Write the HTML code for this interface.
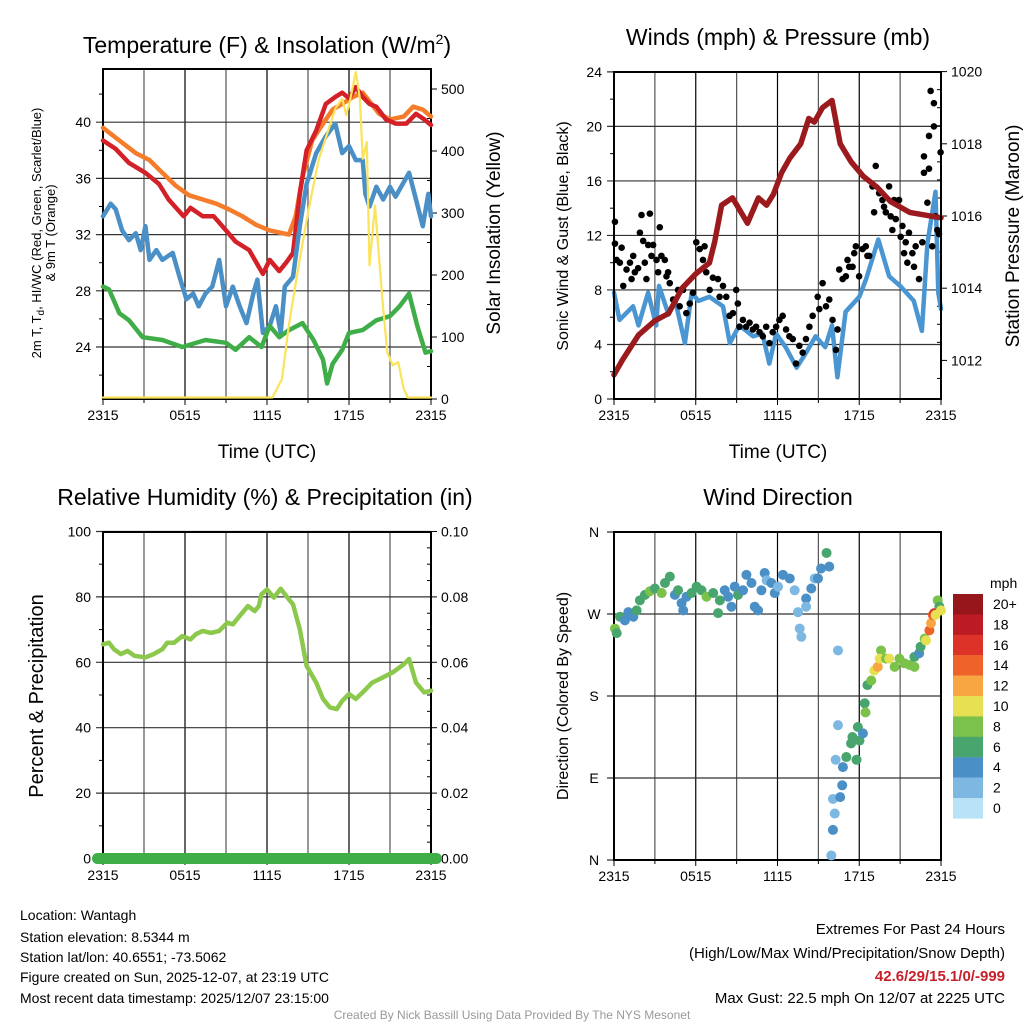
<!DOCTYPE html>
<html><head><meta charset="utf-8"><style>
html,body{margin:0;padding:0;background:#fff;}
svg{display:block;font-family:"Liberation Sans",Arial,sans-serif;}
</style></head><body>
<svg id="s" width="1024" height="1024" viewBox="0 0 1024 1024" xmlns="http://www.w3.org/2000/svg">
<rect width="1024" height="1024" fill="#fff"/>
<text x="267" y="53" font-size="23" text-anchor="middle">Temperature (F) &amp; Insolation (W/m<tspan dy="-9" font-size="14">2</tspan><tspan dy="9">)</tspan></text>
<text x="778" y="45" font-size="23" text-anchor="middle">Winds (mph) &amp; Pressure (mb)</text>
<text x="265" y="505" font-size="23" text-anchor="middle">Relative Humidity (%) &amp; Precipitation (in)</text>
<text x="778" y="505" font-size="23" text-anchor="middle">Wind Direction</text>
<text x="267" y="458" font-size="19" text-anchor="middle">Time (UTC)</text>
<text x="778" y="458" font-size="19" text-anchor="middle">Time (UTC)</text>
<text transform="translate(41,233) rotate(-90)" font-size="13" text-anchor="middle">2m T, T<tspan dy="3" font-size="10">d</tspan><tspan dy="-3">, HI/WC (Red, Green, Scarlet/Blue)</tspan></text>
<text transform="translate(55,233) rotate(-90)" font-size="13" text-anchor="middle">&amp; 9m T (Orange)</text>
<text transform="translate(500,233) rotate(-90)" font-size="19" text-anchor="middle">Solar Insolation (Yellow)</text>
<text transform="translate(568,236) rotate(-90)" font-size="16" text-anchor="middle">Sonic Wind &amp; Gust (Blue, Black)</text>
<text transform="translate(1019,236) rotate(-90)" font-size="19" text-anchor="middle">Station Pressure (Maroon)</text>
<text transform="translate(43,696) rotate(-90)" font-size="20" text-anchor="middle">Percent &amp; Precipitation</text>
<text transform="translate(568,696) rotate(-90)" font-size="16" text-anchor="middle">Direction (Colored By Speed)</text>
<g font-size="14">
<text x="20" y="920">Location: Wantagh</text>
<text x="20" y="942">Station elevation: 8.5344 m</text>
<text x="20" y="962">Station lat/lon: 40.6551; -73.5062</text>
<text x="20" y="982">Figure created on Sun, 2025-12-07, at 23:19 UTC</text>
<text x="20" y="1003">Most recent data timestamp: 2025/12/07 23:15:00</text>
</g>
<g font-size="15" text-anchor="end">
<text x="1005" y="934">Extremes For Past 24 Hours</text>
<text x="1005" y="958">(High/Low/Max Wind/Precipitation/Snow Depth)</text>
<text x="1005" y="981" fill="#c8202a" font-weight="bold">42.6/29/15.1/0/-999</text>
<text x="1005" y="1003">Max Gust: 22.5 mph On 12/07 at 2225 UTC</text>
</g>
<text x="512" y="1019" font-size="12" fill="#999" text-anchor="middle">Created By Nick Bassill Using Data Provided By The NYS Mesonet</text>
</svg>
<script>
// ---- Temperature panel data ----
const redH=[0,0.93,1.9,3.1,4.1,4.8,5.9,6.4,7.3,8.1,9.0,9.7,10.7,11.4,11.7,12.2,12.9,13.4,13.9,14.4,14.9,15.6,16.3,17.0,17.5,18.0,18.5,19.0,19.5,20.0,20.7,21.4,22.2,22.9,23.5,24];
const redT=[38.7,38.1,37.1,36.4,35.6,34.5,33.3,33.9,33.3,33.3,32.3,31.5,30.9,29.7,29.2,30.2,29.4,30.0,30.7,34.9,38.0,39.4,41.3,41.8,42.1,41.7,42.5,41.8,41.3,41.1,40.2,39.9,39.9,40.6,40.2,39.8];
const orangeH=[0,1.2,2.4,3.4,4.35,5.3,6.3,7.3,8.3,9.2,10.2,11.2,12.2,13.6,14.1,14.6,15.3,16.1,16.8,17.5,18.3,19,20.2,21,22,22.7,23.4,24];
const orangeT=[39.6,38.7,37.8,37.3,36.4,35.5,34.8,34.5,34.2,33.8,33.3,32.7,32.3,32.0,33.3,36.1,38.7,39.9,40.9,41.3,41.8,42.1,40.6,40.2,40.4,41.1,40.9,40.4];
const blueH=[0,0.56,0.93,1.4,1.9,2.4,2.76,3.1,3.4,3.9,4.35,5.1,5.6,6.1,6.6,7.0,7.5,8.0,8.5,9.0,9.5,10.0,10.5,11.0,11.3,11.7,12.2,12.65,13.0,13.3,13.9,14.4,14.9,15.6,16.3,17.0,17.5,18.0,18.5,19,19.2,19.5,20,20.5,21,21.4,22.4,22.9,23.4,23.8,24];
const blueT=[33.3,34.2,33.8,32.3,31.6,32.1,30.9,32.6,30.2,30.9,30.2,30.7,29.0,27.4,27.8,26.9,27.8,28.3,30.2,26.9,28.3,26.9,25.7,27.8,28.8,25.0,25.5,26.9,25.0,28.3,29.0,32.6,35.6,37.8,39.0,39.9,37.8,38.3,37.3,37.3,34.9,34.0,35.4,34.5,35.4,34.7,36.4,34.5,32.6,34.9,33.3];
const greenH=[0,0.44,1.2,1.9,2.9,4.35,5.8,7.5,9.0,9.7,10.7,11.6,12.2,12.9,13.6,14.6,15.4,16.1,16.4,16.8,17.5,18.0,19.0,20.0,21,21.7,22.4,23.0,23.6,24];
const greenT=[28.3,28.1,26.4,25.9,24.7,24.5,24.0,24.5,24.3,23.8,24.7,24.0,25.5,24.7,25.2,25.7,24.5,23.1,21.4,22.8,23.8,25.0,25.2,25.9,26.2,26.9,27.8,25.5,23.6,23.7];
const solarH=[0,12.4,13.1,13.6,14.4,15.1,15.8,16.6,17.0,17.5,17.8,18.1,18.5,18.8,19.0,19.3,19.5,19.9,20.2,20.5,20.8,21.2,21.6,22,22.3,24];
const solarW=[0,0,30,117,224,310,385,439,466,482,455,482,525,482,385,412,213,310,224,143,73,52,57,14,0,0];
const tempTicks=[24,28,32,36,40];
const solarTicks=[0,100,200,300,400,500];
const timeTicks=[0,6,12,18,24];
const timeLabels=["2315","0515","1115","1715","2315"];
// ---- Wind panel data ----
const presH=[0,0.6,1.8,3,4,5,6,7,7.4,7.9,8.7,9.8,10.6,11.2,11.7,12.3,12.9,13.7,14.3,14.7,15.3,16,16.6,17.4,18.3,19.3,20.3,21.7,24];
const presMb=[1011.6,1012,1012.7,1013.1,1013.3,1014,1014.4,1014.7,1015.3,1016.3,1016.5,1015.8,1016.5,1016.3,1016.6,1017.2,1017.6,1018,1018.7,1018.6,1019,1019.2,1018,1017.5,1017.1,1016.8,1016.4,1016.1,1015.95];
const windH=[0,0.4,1.4,1.8,2.5,3.1,3.3,4,4.5,5.2,5.7,6.2,7,8,8.5,9.2,10.2,10.9,11.4,11.9,12.6,13.4,14.1,14.8,15.5,16,16.4,17,18,18.5,19.4,20.2,21,22,22.6,23,23.6,23.8,24];
const windS=[7.8,5.8,6.8,5.4,7.8,5.4,8.3,6.2,7.2,4.1,7.8,7.2,7.5,6.8,4.1,5.4,4.6,4.8,2.6,4.8,3.8,2.3,3.4,4.6,3.8,5.4,1.6,6.4,7.5,8.8,11.7,9,8.3,7.2,5,11.4,15.2,7.8,6.6];
const gustH=[0.07,0.07,0.19,0.56,0.43,0.68,0.92,1.17,1.29,1.41,1.53,1.77,1.90,2.02,2.14,2.26,2.38,2.51,2.63,2.75,2.87,3.12,3.24,3.36,3.48,3.73,3.85,3.97,4.09,4.34,4.70,4.82,5.07,5.31,5.56,5.80,6.04,6.29,6.53,6.65,6.77,7.02,7.26,7.63,7.75,8.00,8.24,8.48,8.73,8.97,9.09,9.21,9.46,9.70,9.95,10.19,10.43,10.68,10.92,11.17,11.41,11.65,11.90,12.14,12.38,12.63,12.87,13.12,13.36,13.60,13.85,14.09,14.34,14.58,14.95,15.07,15.31,15.56,15.80,16.04,16.29,16.41,16.53,16.78,17.02,17.14,17.26,17.51,17.63,17.75,17.99,18.24,18.48,18.60,18.73,18.97,19.09,19.21,19.46,19.70,19.82,19.95,20.19,20.31,20.43,20.56,20.68,20.92,21.04,21.17,21.29,21.41,21.53,21.65,21.90,22.02,22.14,22.39,22.63,22.75,22.75,23.0,23.12,23.12,23.36,23.48,23.6,23.73,23.85,23.97,23.24,23.48];
const gustS=[13.0,11.4,10.2,11.1,10.0,8.3,9.5,10.0,8.8,10.5,9.3,9.6,12.2,13.5,11.6,10.0,8.8,11.3,13.6,10.5,11.3,10.2,9.3,12.6,10.5,10.2,9.0,9.3,8.5,7.3,8.0,6.8,8.0,6.3,7.0,7.8,11.5,11.0,10.2,11.2,9.3,8.0,8.9,8.8,7.5,8.3,7.5,6.1,6.3,8.0,7.0,5.3,5.8,5.3,5.6,5.1,5.3,4.9,4.6,5.3,4.1,4.9,5.3,5.8,6.1,5.1,4.6,4.4,2.6,3.9,3.4,4.4,5.3,6.1,7.5,6.6,8.5,6.8,7.3,5.8,3.6,5.1,9.5,8.8,9.0,10.2,9.7,9.7,10.7,11.2,9.0,11.0,11.2,10.5,10.5,15.6,13.7,17.1,15.1,14.6,14.1,13.7,15.6,13.4,12.4,14.6,13.2,14.6,11.9,12.7,10.7,11.5,10.0,12.2,10.7,9.7,11.2,8.8,11.5,17.8,16.6,14.4,16.9,19.3,11.2,20.0,13.4,12.4,12.1,18.1,22.6,21.7];
const speedTicks=[0,4,8,12,16,20,24];
const presTicks=[1012,1014,1016,1018,1020];
// ---- RH panel data ----
const rhH=[0,0.44,0.8,1.3,1.8,2.3,3.1,3.7,4.35,4.7,5.2,5.8,6.4,6.8,7.3,7.9,8.5,9.1,9.5,10,10.6,11.1,11.4,11.6,12.0,12.5,13.0,13.5,13.9,14.4,14.9,15.6,16.1,16.6,17.1,17.5,18.0,18.5,19.0,19.7,20.5,21.2,22.0,22.4,22.9,23.5,24];
const rhV=[65.5,66,64,62.5,63.5,62,61.5,62.5,64,66,66,68,67,68.6,69.6,69,69.6,72.1,71.6,74.2,77.2,75.7,77.2,80.8,82.3,79.8,82.5,79.8,77.7,70.1,58.9,53.8,48.8,46.2,45.7,48.2,50.3,48.8,50.8,53.8,55.4,56.9,59.4,61,53.8,50.8,51.3];
const precipH=[-0.4,24.4];
const precipV=[0,0];
const rhTicks=[0,20,40,60,80,100];
const precipTicks=["0.00","0.02","0.04","0.06","0.08","0.10"];
// ---- Wind direction data ----
const dirH=[0.07,0.2,0.44,0.8,1.05,1.42,1.66,1.9,2.27,2.64,3.0,3.5,3.74,4.1,4.47,4.7,4.96,5.08,5.32,5.69,6.06,6.42,6.79,7.28,7.64,7.77,8.13,8.38,8.62,8.86,9.1,9.47,9.72,10.09,10.33,10.57,10.82,11.06,11.2,11.55,11.8,12.04,12.4,12.9,13.26,13.5,13.63,13.75,14.1,14.1,14.48,14.73,14.97,15.2,15.6,15.8,16.44,15.95,16.07,16.2,16.07,16.6,16.75,16.8,16.27,17.05,16.44,17.4,17.5,17.8,18.02,17.9,18.27,18.4,18.46,18.6,18.88,19.1,19.36,19.6,19.5,19.97,20.2,20.6,20.95,21.3,21.7,22.05,22.05,22.4,22.5,22.8,22.9,23.15,23.27,23.4,23.5,23.6,23.76,23.88,24.0];
const dirDeg=[254,249,267,263,272,267,274,285,291,295,298,293,304,311,291,296,282,274,289,293,300,296,289,293,271,285,296,289,278,300,291,296,313,304,278,274,296,315,307,304,293,300,313,309,296,272,254,245,287,278,298,309,309,320,337,322,230,5,33,51,67,69,82,102,110,113,148,128,135,110,131,146,139,172,162,192,197,208,212,230,221,221,221,212,221,216,214,212,223,227,234,243,241,252,260,269,271,269,285,278,274];
const dirSpd=[8,6,6,4,4,4,6,6,6,8,6,8,6,6,4,6,4,4,4,6,6,6,8,6,6,6,4,4,4,4,6,4,4,4,4,4,4,4,2,4,4,2,4,4,2,2,2,2,4,2,4,2,4,4,6,4,2,2,4,2,2,4,4,4,2,6,2,6,6,6,6,6,4,6,8,6,8,10,12,8,10,8,10,8,8,8,8,8,6,4,6,8,10,14,12,14,16,10,8,6,10];
const dirTicks=[0,90,180,270,360];
const dirLabels=["N","E","S","W","N"];
const cbLabels=["20+","18","16","14","12","10","8","6","4","2","0"];
const cbColors=["#96161b","#bd1b24","#dc3227","#ef622a","#f8a641","#e8e053","#7bc24a","#48a56e","#4a8fc6","#7db8e3","#b8e2f6"];

const NS="http://www.w3.org/2000/svg";
const svg=document.getElementById('s');
function mk(tag,attrs,parent){const e=document.createElementNS(NS,tag);for(const k in attrs)e.setAttribute(k,attrs[k]);(parent||svg).appendChild(e);return e;}
function txt(x,y,s,anchor,size,parent){const t=mk('text',{x:x,y:y,'font-size':size||14,'text-anchor':anchor||'middle'},parent);t.textContent=s;return t;}

function frame(x0,x1,y0,y1,name){
  const g=mk('g',{});
  
  
  for(let h=3;h<24;h+=3){const x=x0+(x1-x0)*h/24;mk('line',{x1:x,x2:x,y1:y0,y2:y1,stroke:(h%6==0?'#000':'#555'),'stroke-width':1.2},g);}
  for(let h=0;h<=24;h+=3){const x=x0+(x1-x0)*h/24;mk('line',{x1:x,x2:x,y1:y1,y2:y1+(h%6==0?6:4),stroke:'#000','stroke-width':1},g);}
  timeTicks.forEach((h,i)=>{const x=x0+(x1-x0)*h/24;const t=txt(x,y1+21,timeLabels[i],'middle',14,g);
    
    });
  return g;
}
function border(x0,x1,y0,y1){mk('rect',{x:x0,y:y0,width:x1-x0,height:y1-y0,fill:'none',stroke:'#000','stroke-width':2});}
function line(hs,vs,xf,yf,color,w,name){
  let d='';hs.forEach((h,i)=>{d+=(i?'L':'M')+xf(h).toFixed(1)+','+yf(vs[i]).toFixed(1);});
  const p=mk('path',{d:d,fill:'none',stroke:color,'stroke-width':w,'stroke-linejoin':'round','stroke-linecap':'round'});
  
  
  return p;
}

// ===== Panel 1 =====
(function(){
  const x0=103,x1=431,y0=69,y1=399;
  const xf=h=>x0+(x1-x0)*h/24;
  const yT=t=>347-(t-24)*14.05;
  const yS=v=>397.5-v*0.62;
  const g=frame(x0,x1,y0,y1,'temperature');
  tempTicks.forEach(t=>{const y=yT(t);mk('line',{x1:x0-7,x2:x1,y1:y,y2:y,stroke:'#333','stroke-width':1.2},g);
    const l=txt(x0-12,y+5,String(t),'end',14,g);});
  for(let t=22;t<=42;t+=4){mk('line',{x1:x0-4,x2:x0,y1:yT(t),y2:yT(t),stroke:'#000'},g);}
  solarTicks.forEach(v=>{const y=yS(v)+1.5;mk('line',{x1:x1,x2:x1+6,y1:y,y2:y,stroke:'#000'},g);
    const l=txt(x1+10,y+5,String(v),'start',14,g);});
  for(let v=50;v<=500;v+=100){mk('line',{x1:x1-4,x2:x1,y1:yS(v),y2:yS(v),stroke:'#000'},g);}
  border(x0,x1,y0,y1);
  line(orangeH,orangeT,xf,yT,'#f47c2a',4.5,'orange-9m-temp-line');
  line(redH,redT,xf,yT,'#d42027',4.5,'red-2m-temp-line');
  line(blueH,blueT,xf,yT,'#4a8fc6',4.5,'blue-windchill-line');
  line(greenH,greenT,xf,yT,'#3fae49',4.5,'green-dewpoint-line');
  line(solarH,solarW,xf,yS,'#fbe35a',2.2,'yellow-insolation-line');
})();

// ===== Panel 2 =====
(function(){
  const x0=614,x1=941,y0=72,y1=399;
  const xf=h=>x0+(x1-x0)*h/24;
  const yW=s=>399-s*13.63;
  const yP=p=>216-(p-1016)*36.1;
  const g=frame(x0,x1,y0,y1,'winds');
  speedTicks.forEach(s=>{const y=yW(s);mk('line',{x1:x0-7,x2:x1,y1:y,y2:y,stroke:'#333','stroke-width':1.2},g);
    const l=txt(x0-12,y+5,String(s),'end',14,g);});
  for(let s=2;s<24;s+=4){mk('line',{x1:x0-4,x2:x0,y1:yW(s),y2:yW(s),stroke:'#000'},g);}
  presTicks.forEach(p=>{const y=yP(p);mk('line',{x1:x1,x2:x1+6,y1:y,y2:y,stroke:'#000'},g);
    const l=txt(x1+10,y+5,String(p),'start',14,g);});
  for(let p=1011.5;p<=1020;p+=0.5){if(p%2)mk('line',{x1:x1-4,x2:x1,y1:yP(p),y2:yP(p),stroke:'#000'},g);}
  line(windH,windS,xf,yW,'#4a96d2',4.5,'blue-wind-speed-line');
  gustH.forEach((h,i)=>{const c=mk('circle',{cx:xf(h),cy:yW(gustS[i]),r:3.3,fill:'#000'});
    
    });
  line(presH,presMb,xf,yP,'#9b1a1d',5.5,'maroon-pressure-line');
  border(x0,x1,y0,y1);
})();

// ===== Panel 3 =====
(function(){
  const x0=103,x1=431,y0=532,y1=859;
  const xf=h=>x0+(x1-x0)*h/24;
  const yR=r=>858.5-r*3.27;
  const g=frame(x0,x1,y0,y1,'humidity');
  rhTicks.forEach((r,i)=>{const y=yR(r);mk('line',{x1:x0-7,x2:x1,y1:y,y2:y,stroke:'#333','stroke-width':1.2},g);
    const l=txt(x0-12,y+5,String(r),'end',14,g);
    mk('line',{x1:x1,x2:x1+6,y1:y,y2:y,stroke:'#000'},g);
    const p=txt(x1+10,y+5,precipTicks[i],'start',14,g);});
  for(let r=10;r<100;r+=20){mk('line',{x1:x0-4,x2:x0,y1:yR(r),y2:yR(r),stroke:'#000'},g);}
  for(let r=5;r<100;r+=5){if(r%20)mk('line',{x1:x1-4,x2:x1,y1:yR(r),y2:yR(r),stroke:'#000'},g);}
  border(x0,x1,y0,y1);
  line(rhH,rhV,xf,yR,'#8cc84b',4.5,'rh-line');
  line(precipH,precipV.map(v=>v*1000),xf,yR,'#3fae49',11,'precip-line');
})();

// ===== Panel 4 =====
(function(){
  const x0=614,x1=941,y0=532,y1=860;
  const xf=h=>x0+(x1-x0)*h/24;
  const yD=d=>860-d*328/360;
  const g=frame(x0,x1,y0,y1,'direction');
  dirTicks.forEach((d,i)=>{const y=yD(d);mk('line',{x1:x0-7,x2:x1,y1:y,y2:y,stroke:'#333','stroke-width':1.2},g);
    const l=txt(x0-20,y+5,dirLabels[i],'middle',14,g);});
  border(x0,x1,y0,y1);
  dirH.forEach((h,i)=>{const idx=Math.min(10,Math.floor(dirSpd[i]/2));
    const c=mk('circle',{cx:xf(h),cy:yD(dirDeg[i]),r:5,fill:cbColors[10-idx]});
    
    });
  const cb=mk('g',{});
  
  
  const t=txt(990,588,'mph','start',14,cb);
  cbColors.forEach((c,i)=>{mk('rect',{x:953,y:594+i*20.4,width:30,height:20.6,fill:c},cb);
    const l=txt(993,609+i*20.4,cbLabels[i],'start',14,cb);
    
    });
})();
</script>
</body></html>
